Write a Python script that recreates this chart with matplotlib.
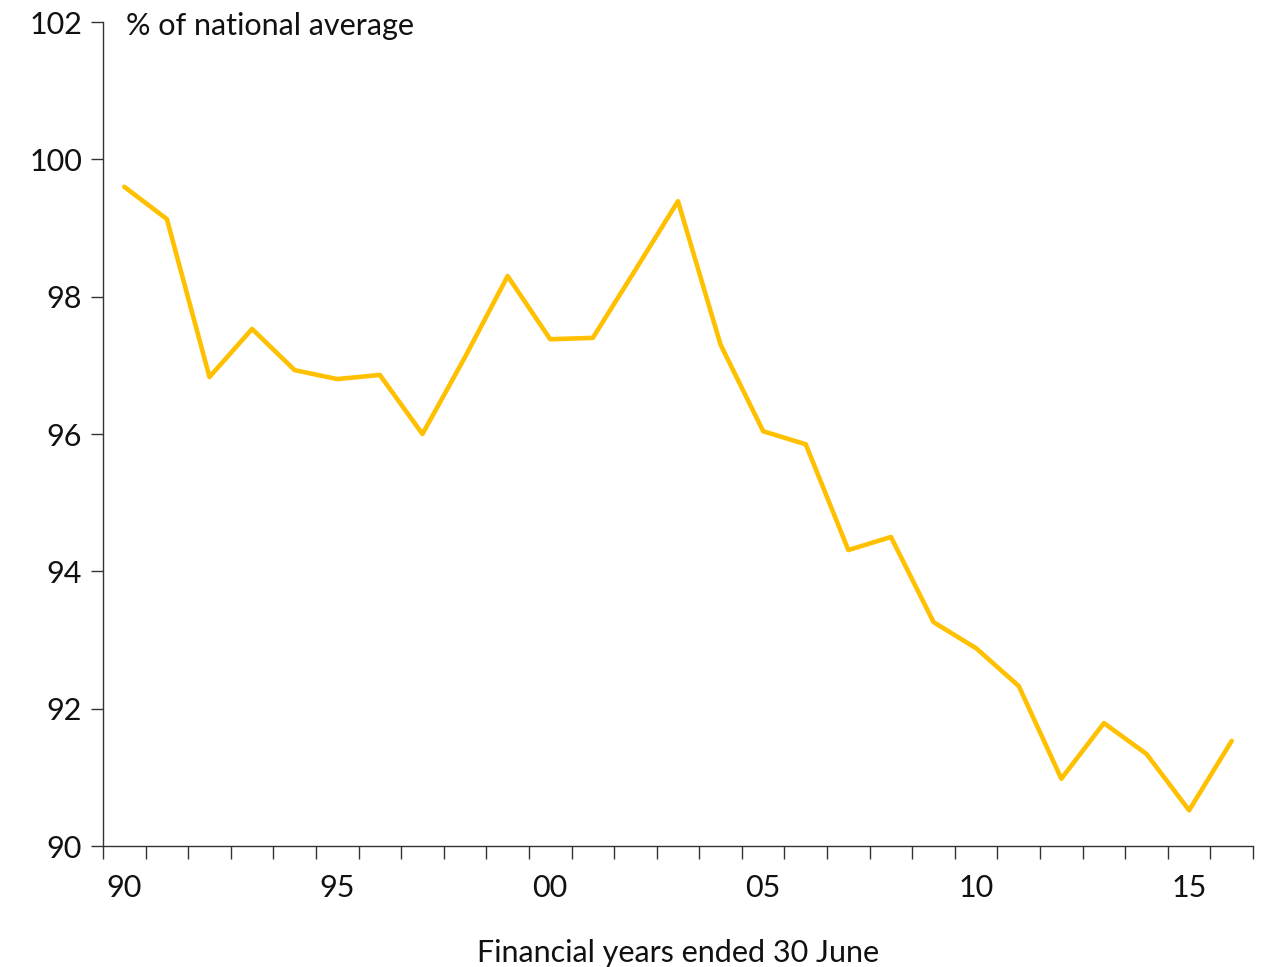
import matplotlib
matplotlib.use("Agg")
import matplotlib.pyplot as plt
import numpy as np

plt.rcParams['font.family'] = ['Lato', 'DejaVu Sans']

years = list(range(1990, 2017))
values = [99.60, 99.13, 96.83, 97.53, 96.93, 96.80, 96.86, 96.00, 97.12, 98.30,
          97.38, 97.40, 98.39, 99.39, 97.30, 96.04, 95.85, 94.31, 94.50, 93.26,
          92.88, 92.33, 90.98, 91.79, 91.34, 90.52, 91.53]
x_labels = ['90', '95', '00', '05', '10', '15']
label_years = [1990, 1995, 2000, 2005, 2010, 2015]
y_ticks = [90, 92, 94, 96, 98, 100, 102]

FS = 22

fig = plt.figure(figsize=(12.75, 9.67), dpi=100)
ax = fig.add_axes([103 / 1275, 1 - 846 / 967, 1150 / 1275, 824 / 967])

ax.plot(years, values, color='#FFC000', lw=3.3, solid_joinstyle='round',
        solid_capstyle='round')

ax.set_xlim(1989.5, 2016.5)
ax.set_ylim(90, 102)

ax.set_yticks(y_ticks)
ax.set_yticklabels([str(v) for v in y_ticks])

# year boundaries carry the ticks, labels sit at the centre of each year
ax.set_xticks(np.arange(1989.5, 2017, 1.0))
ax.set_xticklabels([])
ax.set_xticks(label_years, minor=True)
ax.set_xticklabels(x_labels, minor=True)
ax.tick_params(axis='x', which='minor', length=0, pad=20)
ax.tick_params(axis='x', which='major', length=9, width=1, color='#333333', direction='out')
ax.tick_params(axis='y', length=9, width=1, color='#333333', direction='out', pad=6)
ax.tick_params(axis='both', which='both', labelsize=FS, labelcolor='#111111')

for side in ['top', 'right']:
    ax.spines[side].set_visible(False)
for side in ['left', 'bottom']:
    ax.spines[side].set_color('#333333')
    ax.spines[side].set_linewidth(1.0)

ax.text(0.02, 0.995, '% of national average', transform=ax.transAxes,
        fontsize=FS, color='#111111', va='center', ha='left')
ax.set_xlabel('Financial years ended 30 June', fontsize=FS, color='#111111', labelpad=27)

fig.savefig('out.png', dpi=100)
